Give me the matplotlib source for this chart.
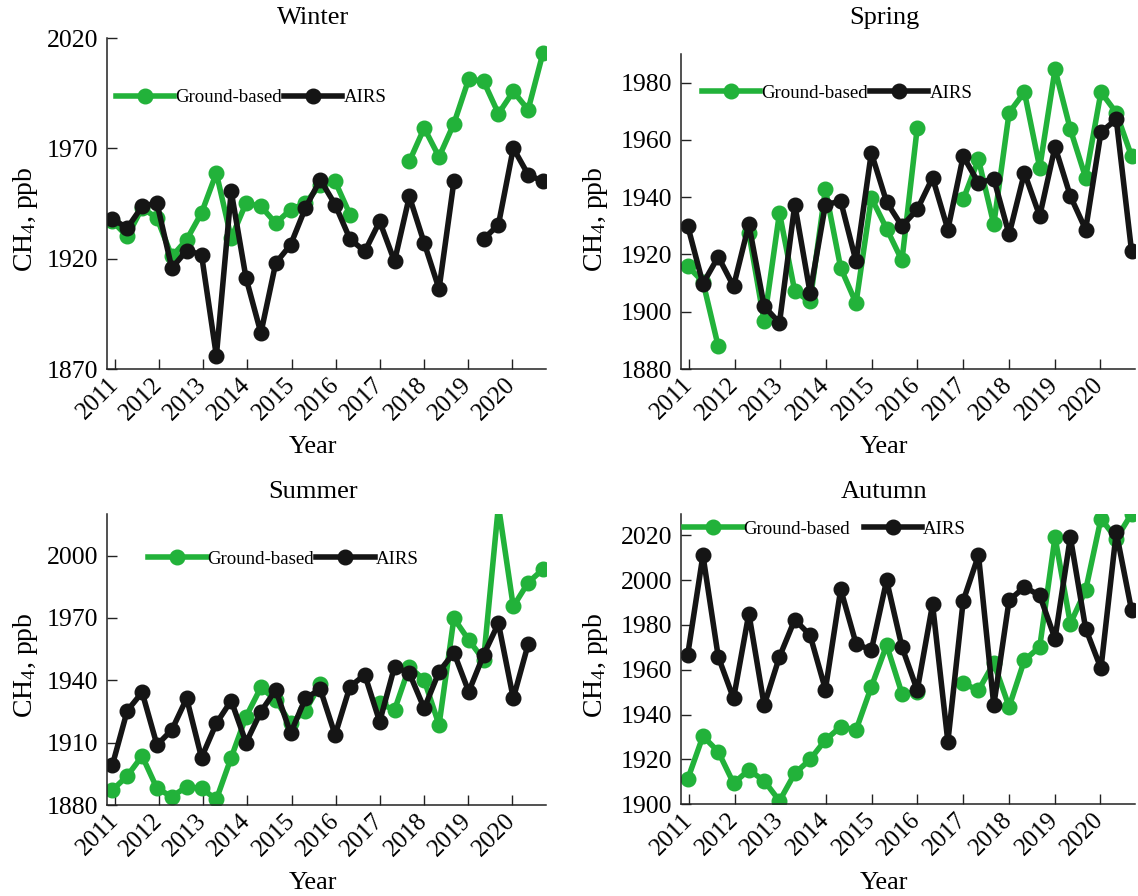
import numpy as np
import matplotlib
matplotlib.use("Agg")
import matplotlib.pyplot as plt
from matplotlib.transforms import ScaledTranslation

nan = np.nan

# ---- data: seasonal CH4 (ppb), three samples per season per year, 2011-2020 ----
years = [2011, 2012, 2013, 2014, 2015, 2016, 2017, 2018, 2019, 2020]
year_labels = [str(y) for y in years]
series_names = ["Ground-based", "AIRS"]

winter_ground = [1937.0, 1930.1, 1943.0, 1938.4, 1921.0, 1928.6, 1940.7, 1958.8, 1929.3, 1945.2,
                 1943.7, 1936.1, 1942.2, 1945.2, 1953.5, 1955.0, 1940.0, nan, nan, nan,
                 1964.1, 1979.2, 1966.1, 1981.2, 2001.4, 2000.4, 1985.7, 1995.8, 1987.5, 2013.2]
winter_airs = [1938.0, 1933.9, 1943.7, 1945.2, 1915.7, 1923.7, 1921.8, 1876.0, 1950.5, 1911.2,
               1886.3, 1918.0, 1926.3, 1943.0, 1955.8, 1944.5, 1928.9, 1923.3, 1936.9, 1918.8,
               1948.2, 1927.1, 1906.3, 1955.0, nan, 1928.9, 1935.4, 1970.1, 1958.1, 1955.0]

spring_ground = [1915.9, 1910.5, 1887.9, nan, 1927.5, 1896.6, 1934.5, 1907.1, 1903.6, 1942.7,
                 1915.3, 1903.0, 1939.8, 1929.0, 1917.9, 1964.3, nan, nan, 1939.2, 1953.2,
                 1930.5, 1969.5, 1976.7, 1950.3, 1984.6, 1963.7, 1946.8, 1976.7, 1969.5, 1954.3]
spring_airs = [1930.1, 1909.8, 1919.2, 1908.9, 1930.5, 1901.9, 1896.1, 1937.4, 1906.6, 1937.4,
               1938.6, 1917.6, 1955.5, 1938.3, 1929.9, 1935.7, 1946.8, 1928.7, 1954.3, 1945.0,
               1946.4, 1927.0, 1948.5, 1933.4, 1957.6, 1940.4, 1928.7, 1962.7, 1967.2, 1921.1]

summer_ground = [1887.2, 1894.0, 1903.6, 1888.0, 1884.0, 1888.8, 1888.0, 1882.7, 1902.8, 1922.5,
                 1936.6, 1930.5, 1919.3, 1925.4, 1938.2, nan, nan, nan, 1928.9, 1925.7,
                 1946.5, 1940.1, 1918.5, 1969.8, 1959.4, 1949.8, 2024.0, 1975.5, 1987.0, 1993.4]
summer_airs = [1899.3, 1925.4, 1934.2, 1908.9, 1916.1, 1931.3, 1902.8, 1919.3, 1930.2, 1910.0,
               1924.9, 1935.4, 1914.5, 1931.3, 1935.7, 1913.7, 1937.0, 1942.6, 1920.1, 1946.5,
               1943.4, 1926.5, 1944.1, 1953.3, 1934.5, 1952.2, 1967.4, 1931.3, 1957.3, nan]

autumn_ground = [1911.1, 1930.4, 1923.5, 1909.4, 1915.3, 1910.5, 1901.5, 1913.8, 1920.0, 1928.7,
                 1934.6, 1933.1, 1952.4, 1971.0, 1949.4, 1950.0, nan, nan, 1953.9, 1950.9,
                 1963.0, 1943.5, 1964.3, 1970.2, 2019.2, 1980.6, 1995.5, 2027.4, 2018.5, 2029.6]
autumn_airs = [1966.5, 2011.1, 1965.8, 1947.2, 1985.1, 1944.2, 1965.8, 1982.4, 1975.4, 1951.2,
               1995.9, 1971.7, 1968.7, 1999.9, 1970.2, 1950.9, 1989.2, 1927.9, 1990.7, 2011.1,
               1944.2, 1991.0, 1996.9, 1993.2, 1973.9, 2019.2, 1978.4, 1960.6, 2021.4, 1986.5]

# ---- style ----
GREEN = "#22b23a"
BLACK = "#151515"
FONT = "Liberation Serif"
plt.rcParams["font.family"] = [FONT, "DejaVu Serif"]
plt.rcParams["mathtext.fontset"] = "custom"
plt.rcParams["mathtext.rm"] = FONT
plt.rcParams["mathtext.it"] = FONT + ":italic"

W, H = 1138, 896
fig = plt.figure(figsize=(W / 100, H / 100), dpi=100)


def px_axes(left, right, top, bottom):
    return fig.add_axes([left / W, 1 - bottom / H, (right - left) / W, (bottom - top) / H])


panels = [
    dict(title="Winter", g=winter_ground, a=winter_airs, box=(106.7, 546, 38, 369),
         t0=2010.94, dt=0.3366, xlim=(2010.81, 2020.77), ylim=(1870, 2020),
         yticks=[1870, 1920, 1970, 2020], leg=(0.021, 0.82), colsp=0.1,
         cx=313, ty=18, ly=219, xy=447, lx=26),
    dict(title="Spring", g=spring_ground, a=spring_airs, box=(681, 1135, 54, 369),
         t0=2010.97, dt=0.335, xlim=(2010.825, 2020.76), ylim=(1880, 1990),
         yticks=[1880, 1900, 1920, 1940, 1960, 1980], leg=(0.046, 0.875), colsp=0.1,
         cx=884, ty=18, ly=219, xy=447, lx=596),
    dict(title="Summer", g=summer_ground, a=summer_airs, box=(106.7, 546, 514, 805),
         t0=2010.94, dt=0.3366, xlim=(2010.81, 2020.77), ylim=(1880, 2020),
         yticks=[1880, 1910, 1940, 1970, 2000], leg=(0.094, 0.845), colsp=0.1,
         cx=313, ty=492, ly=665, xy=883, lx=26),
    dict(title="Autumn", g=autumn_ground, a=autumn_airs, box=(681, 1135, 514, 804.3),
         t0=2010.97, dt=0.335, xlim=(2010.825, 2020.76), ylim=(1900, 2029.5),
         yticks=[1900, 1920, 1940, 1960, 1980, 2000, 2020], leg=(0.007, 0.948), colsp=0.7,
         cx=884, ty=492, ly=665, xy=883, lx=596),
]

label_shift = ScaledTranslation(7 / 100, 0, fig.dpi_scale_trans)

for p in panels:
    ax = px_axes(p["box"][0], p["box"][1], p["box"][2], p["box"][3])
    n = len(p["g"])
    t = p["t0"] + p["dt"] * np.arange(n)
    lg, = ax.plot(t, p["g"], color=GREEN, lw=4.0, marker="o", ms=10.5,
                  solid_joinstyle="round", label=series_names[0])
    la, = ax.plot(t, p["a"], color=BLACK, lw=4.0, marker="o", ms=10.5,
                  solid_joinstyle="round", label=series_names[1])

    ax.set_xlim(*p["xlim"])
    ax.set_ylim(*p["ylim"])
    ax.set_xticks(years)
    ax.set_xticklabels(year_labels, rotation=45, ha="right", va="center",
                       rotation_mode="anchor", fontsize=18)
    for lab in ax.get_xticklabels():
        lab.set_transform(lab.get_transform() + label_shift)
    ax.set_yticks(p["yticks"])
    ax.set_yticklabels([str(v) for v in p["yticks"]], fontsize=18.5)
    ax.tick_params(axis="both", direction="in", length=7, width=1.0, color="#222222")
    ax.tick_params(axis="x", pad=9)
    ax.tick_params(axis="y", pad=6)
    for s in ("top", "right"):
        ax.spines[s].set_visible(False)
    for s in ("left", "bottom"):
        ax.spines[s].set_linewidth(1.1)
        ax.spines[s].set_color("#222222")

    ax.legend(handles=[lg, la], loc="center left", bbox_to_anchor=p["leg"], ncol=2,
              frameon=False, fontsize=13.6, handlelength=3.1, handletextpad=0.05,
              columnspacing=p["colsp"], borderpad=0, borderaxespad=0, numpoints=1)

    fig.text(p["cx"] / W, 1 - p["ty"] / H, p["title"], ha="center", va="center", fontsize=19)
    fig.text(p["cx"] / W, 1 - p["xy"] / H, "Year", ha="center", va="center", fontsize=19)
    fig.text(p["lx"] / W, 1 - p["ly"] / H, r"CH$_{\mathrm{4}}$, ppb", ha="center", va="center",
             rotation=90, fontsize=20)

fig.savefig("out.png", dpi=100)
